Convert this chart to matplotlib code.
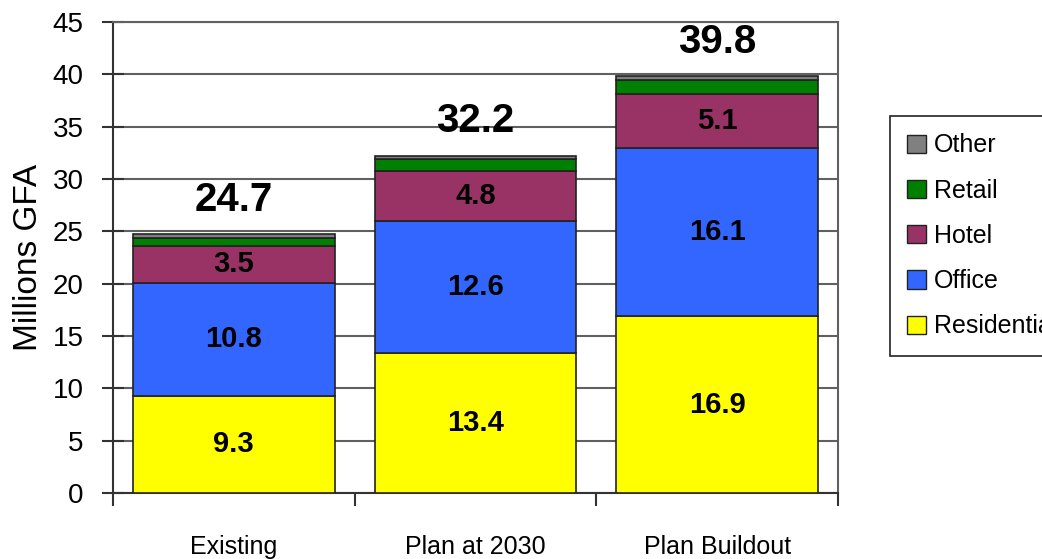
import numpy as np
import matplotlib.pyplot as plt
from matplotlib.patches import Patch

plt.rcParams['font.family'] = ['Liberation Sans', 'DejaVu Sans']

# data
categories = ['Existing', 'Plan at 2030', 'Plan Buildout']
residential = [9.3, 13.4, 16.9]
office = [10.8, 12.6, 16.1]
hotel = [3.5, 4.8, 5.1]
retail = [0.8, 1.1, 1.4]
other = [0.3, 0.3, 0.3]
totals = [24.7, 32.2, 39.8]

series = [('Residential', residential, '#FFFF00'),
          ('Office', office, '#3366FF'),
          ('Hotel', hotel, '#993366'),
          ('Retail', retail, '#008000'),
          ('Other', other, '#808080')]

fig = plt.figure(figsize=(10.42, 5.59), dpi=100)
ax = fig.add_axes([0.1084, 0.1181, 0.6958, 0.8425])

x = np.arange(len(categories))
bottom = np.zeros(len(categories))
for name, vals, col in series:
    ax.bar(x, vals, width=0.835, bottom=bottom, color=col, edgecolor='#222222',
           linewidth=1.2, zorder=3)
    # segment labels for the big segments
    if name in ('Residential', 'Office', 'Hotel'):
        for xi, b, v in zip(x, bottom, vals):
            ax.text(xi, b + v / 2, f'{v:.1f}', ha='center', va='center',
                    fontsize=21, fontweight='bold', zorder=4)
    bottom += np.array(vals)

for xi, t in zip(x, totals):
    ax.text(xi, t + 3.3, f'{t:.1f}', ha='center', va='center',
            fontsize=29, fontweight='bold')

ax.set_xlim(-0.5, 2.5)
ax.set_ylim(0, 45)
ax.set_yticks(np.arange(0, 46, 5))
ax.yaxis.grid(True, color='#606060', linewidth=1.5, zorder=0)
ax.set_axisbelow(True)

ax.set_xticks(x)
ax.set_xticklabels(categories, fontsize=18)
ax.tick_params(axis='x', which='major', length=0, pad=30)
ax.set_xticks([-0.5, 0.5, 1.5, 2.5], minor=True)
ax.tick_params(axis='x', which='minor', length=9, width=1.5, color='#333333')
ax.tick_params(axis='y', direction='inout', length=16, width=1.5, color='#333333',
               labelsize=20, pad=13)
ax.set_ylabel('Millions GFA', fontsize=24, labelpad=6)

for s in ['left', 'bottom']:
    ax.spines[s].set_color('#333333')
    ax.spines[s].set_linewidth(1.5)
for s in ['top', 'right']:
    ax.spines[s].set_color('#606060')
    ax.spines[s].set_linewidth(1.5)

handles = [Patch(facecolor=col, edgecolor='#222222', label=name)
           for name, vals, col in reversed(series)]
leg = fig.legend(handles=handles, loc='upper left', bbox_to_anchor=(0.854, 0.7925),
                 fontsize=18, frameon=True, fancybox=False, framealpha=1,
                 edgecolor='#222222', handlelength=0.75, handleheight=0.75,
                 handletextpad=0.3, labelspacing=0.85, borderpad=0.7,
                 borderaxespad=0)
leg.get_frame().set_linewidth(1.2)

fig.savefig('out.png', dpi=100)
